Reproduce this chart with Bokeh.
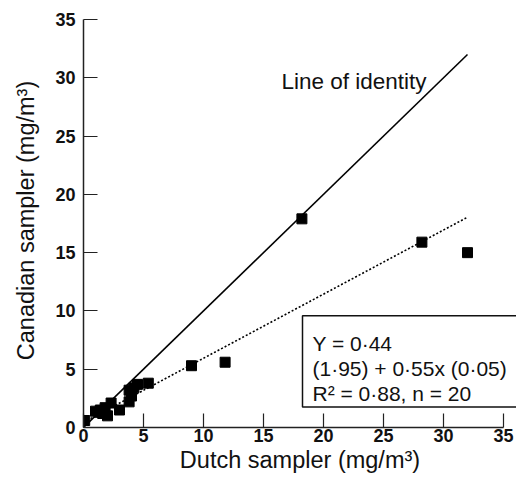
from bokeh.plotting import figure
from bokeh.models import Range1d, FixedTicker, ColumnDataSource
from bokeh.embed import file_html
from bokeh.resources import INLINE
from bokeh.core.properties import value

# Data
dutch = [32.0, 28.2, 18.2, 11.8, 9.0, 5.4, 4.5, 4.2, 4.0, 3.8, 3.8, 3.0, 2.3, 2.0, 1.8, 1.6, 1.4, 1.3, 1.0, 0.1]
canadian = [15.0, 15.9, 17.9, 5.6, 5.3, 3.8, 3.7, 3.4, 2.7, 3.2, 2.2, 1.5, 2.1, 1.0, 1.7, 1.2, 1.5, 1.3, 1.4, 0.6]

identity_x = [0, 32]
fit_intercept = 0.44
fit_slope = 0.55
fit_x = [0, 32]
fit_y = [fit_intercept + fit_slope * v for v in fit_x]

ticks = [0, 5, 10, 15, 20, 25, 30, 35]
eq_lines = ["Y = 0·44", "(1·95) + 0·55x (0·05)", "R² = 0·88, n = 20"]
x_title = "Dutch sampler (mg/m³)"
y_title = "Canadian sampler (mg/m³)"

FONT = "Liberation Sans"

p = figure(width=516, height=483, output_backend="svg", toolbar_location=None,
           x_range=Range1d(0, 433 / 12), y_range=Range1d(0, 35 * 414 / 408),
           min_border_left=83, min_border_right=0, min_border_top=13, min_border_bottom=56)
p.outline_line_color = None
p.xgrid.visible = False
p.ygrid.visible = False
p.background_fill_color = "white"
p.border_fill_color = "white"

for ax in (p.xaxis[0], p.yaxis[0]):
    ax.bounds = (0, 35)
    ax.ticker = FixedTicker(ticks=ticks)
    ax.minor_tick_line_color = None
    ax.major_tick_in = 14
    ax.major_tick_out = 0
    ax.major_tick_line_width = 1.2
    ax.major_tick_line_color = "#222222"
    ax.axis_line_width = 1.5
    ax.axis_line_color = "#222222"
    ax.major_label_text_font = FONT
    ax.major_label_text_font_size = "18px"
    ax.major_label_text_font_style = "bold"
    ax.major_label_text_color = "#111111"
    ax.axis_label_text_font = FONT
    ax.axis_label_text_font_style = "normal"
    ax.axis_label_text_color = "#111111"

p.xaxis.axis_label = x_title
p.yaxis.axis_label = y_title
p.xaxis.axis_label_text_font_size = "23.5px"
p.yaxis.axis_label_text_font_size = "23.5px"
p.xaxis.major_label_standoff = 1
p.xaxis.axis_label_standoff = 2
p.yaxis.major_label_standoff = 8
p.yaxis.axis_label_standoff = 13

# Line of identity
p.line(identity_x, identity_x, line_color="black", line_width=1.6)
# Regression line
p.line(fit_x, fit_y, line_color="black", line_width=1.6, line_dash="2 2")

# Data points
src = ColumnDataSource(dict(x=dutch, y=canadian))
p.scatter("x", "y", source=src, marker="square", size=10, fill_color="black", line_color="black")

# Equation box
p.quad(left=[18.25], right=[40], top=[9.58], bottom=[1.76], fill_color="white",
       line_color="#111111", line_width=1.5)
eq_y = [7.17, 5.02, 2.88]
p.text(x=[19.08] * 3, y=eq_y, text=eq_lines, text_font=value(FONT), text_font_size="21px",
       text_baseline="alphabetic", text_align="left", text_color="#111111")

p.text(x=[16.5], y=[29.7], text=["Line of identity"], text_font=value(FONT), text_font_size="22.5px",
       text_baseline="alphabetic", text_align="left", text_color="#111111")

open("out.html", "w").write(file_html(p, INLINE))
